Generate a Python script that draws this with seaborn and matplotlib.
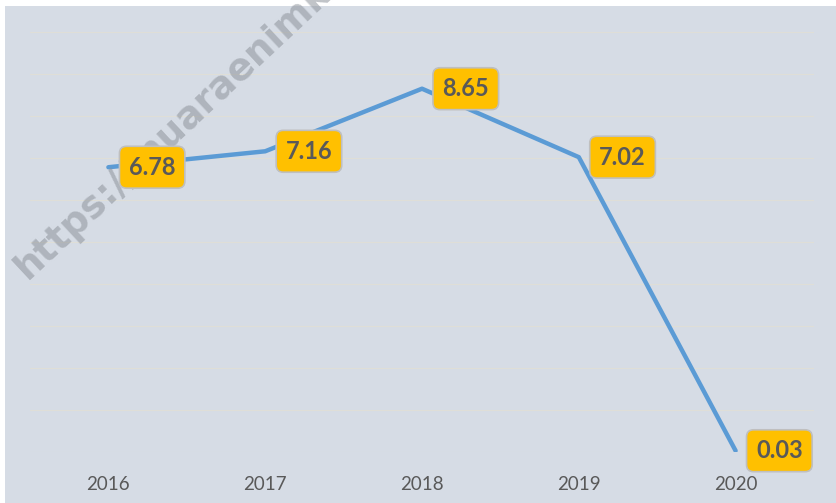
import matplotlib
matplotlib.use("Agg")
import matplotlib.pyplot as plt
import seaborn as sns
import pandas as pd
from matplotlib.patches import Rectangle

years = ["2016", "2017", "2018", "2019", "2020"]
values = [6.78, 7.16, 8.65, 7.02, 0.03]
labels = ["6.78", "7.16", "8.65", "7.02", "0.03"]

sns.set_style("white")
plt.rcParams["font.family"] = ["Lato", "DejaVu Sans"]

df = pd.DataFrame({"year": years, "value": values})

fig = plt.figure(figsize=(8.37, 5.03), dpi=100)
fig.patch.set_facecolor("white")
# gray chart area
bg = fig.add_axes([5 / 837, 0, 1 - 5 / 837, 1 - 6 / 503])
bg.set_axis_off()
bg.add_patch(Rectangle((0, 0), 1, 1, transform=bg.transAxes,
                       facecolor="#D6DCE5", edgecolor="none"))
bg.set_zorder(0)

ax = fig.add_axes([30 / 837, 51 / 503, 784 / 837, 420 / 503])
ax.set_facecolor("none")
ax.set_zorder(1)

sns.lineplot(data=df, x="year", y="value", ax=ax, color="#5B9BD5", linewidth=3.2,
             zorder=3)

ax.set_xlim(-0.5, 4.5)
ax.set_ylim(0, 10)
ax.set_yticks(range(0, 11))
ax.set_yticklabels([])
ax.grid(axis="y", color="#DFDED7", linewidth=0.8)
ax.grid(axis="x", visible=False)
for s in ax.spines.values():
    s.set_visible(False)
ax.tick_params(axis="both", length=0)
ax.tick_params(axis="x", labelsize=13.5, labelcolor="#595959", pad=17)
ax.set_xlabel("")
ax.set_ylabel("")

# watermark
ax.text(-0.028, 0.395, "https://muaraenimkab.bps.go.id", rotation=43, fontsize=27,
        fontweight="bold", color="#8E939B", alpha=0.55, ha="left", va="bottom",
        family="DejaVu Sans", transform=ax.transAxes, zorder=4, clip_on=False)

for i, (v, lab) in enumerate(zip(values, labels)):
    ax.annotate(lab, (i, v), xytext=(31.5, 0), textcoords="offset points",
                ha="center", va="center", fontsize=17, fontweight="bold",
                color="#595959", zorder=6,
                bbox=dict(boxstyle="round,pad=0.4,rounding_size=0.3",
                          fc="#FFC000", ec="#BFBFBF", lw=1.2))

fig.savefig("out.png", dpi=100)
